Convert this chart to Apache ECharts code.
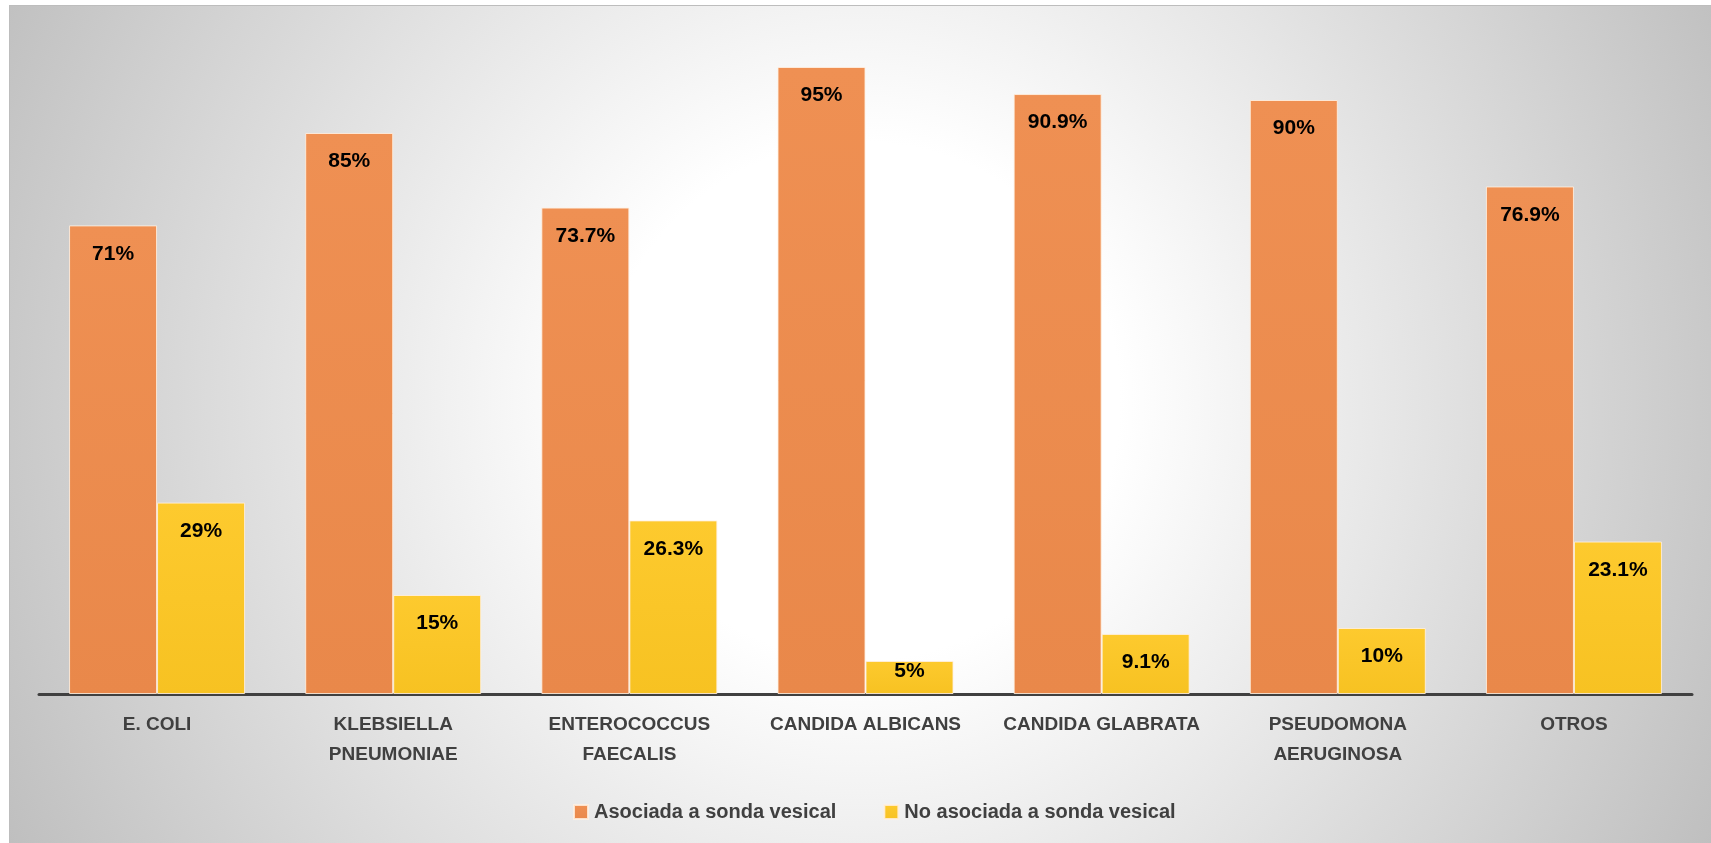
<!DOCTYPE html>
<html>
<head>
<meta charset="utf-8">
<title>Sonda vesical por microorganismo</title>
<script src="https://cdn.jsdelivr.net/npm/echarts@6/dist/echarts.min.js"></script>
<style>
  html, body { margin: 0; padding: 0; background: #ffffff; }
  #frame {
    position: absolute; left: 9px; top: 5px; width: 1702px; height: 838px;
    box-sizing: border-box;
    border-left: 1px solid #bdbdbd; border-top: 1px solid #bdbdbd;
    background: radial-gradient(circle farthest-corner at 851px 395px, #ffffff 0%, #ffffff 27%, #bfbfbf 100%);
  }
  #chart { position: absolute; left: 0; top: 0; width: 1711px; height: 843px; }
</style>
</head>
<body>
<div id="frame"></div>
<div id="chart"></div>
<script>
// Microorganismos aislados
const categories = [
  'E. COLI',
  'KLEBSIELLA\nPNEUMONIAE',
  'ENTEROCOCCUS\nFAECALIS',
  'CANDIDA ALBICANS',
  'CANDIDA GLABRATA',
  'PSEUDOMONA\nAERUGINOSA',
  'OTROS'
];
const seriesNames = ['Asociada a sonda vesical', 'No asociada a sonda vesical'];
// Porcentajes por microorganismo
const asociada = [71, 85, 73.7, 95, 90.9, 90, 76.9];
const noAsociada = [29, 15, 26.3, 5, 9.1, 10, 23.1];

const FONT = '"Liberation Sans", Arial, sans-serif';

// Short bars keep their label just under the top edge
function withLabels(values) {
  return values.map(v => (v < 8 ? { value: v, label: { distance: 0 } } : v));
}

function barSeries(name, values, top, bottom) {
  return {
    name: name,
    type: 'bar',
    barWidth: 88,
    barGap: '0%',
    data: withLabels(values),
    itemStyle: {
      color: new echarts.graphic.LinearGradient(0, 0, 0, 1, [
        { offset: 0, color: top },
        { offset: 1, color: bottom }
      ]),
      borderColor: 'rgba(255,240,225,0.85)',
      borderWidth: 1
    },
    label: {
      show: true,
      position: 'insideTop',
      distance: 18,
      formatter: '{c}%',
      color: '#000000',
      fontFamily: FONT,
      fontWeight: 'bold',
      fontSize: 21
    },
    emphasis: { disabled: true }
  };
}

const chart = echarts.init(document.getElementById('chart'), null, { renderer: 'canvas' });
chart.setOption({
  backgroundColor: 'transparent',
  animation: false,
  color: ['#ED8D4F', '#FBC62A'],
  grid: { left: 39, right: 19, top: 34, bottom: 149, containLabel: false },
  legend: {
    left: 568,
    top: 797,
    itemWidth: 14,
    itemHeight: 14,
    itemGap: 47,
    icon: 'rect',
    textStyle: { fontFamily: FONT, fontSize: 20, fontWeight: 'bold', color: '#404040', padding: [0, 0, 0, 1] },
    data: seriesNames
  },
  xAxis: {
    type: 'category',
    data: categories,
    axisLine: { show: true, lineStyle: { color: '#404040', width: 3 } },
    axisTick: { show: false },
    axisLabel: {
      interval: 0,
      margin: 16,
      color: '#404040',
      fontFamily: FONT,
      fontWeight: 'bold',
      fontSize: 19,
      lineHeight: 30
    }
  },
  yAxis: {
    type: 'value',
    min: 0,
    max: 100,
    interval: 10,
    show: false,
    splitLine: { show: false }
  },
  series: [
    barSeries(seriesNames[0], asociada, '#EF9053', '#E9884A'),
    barSeries(seriesNames[1], noAsociada, '#FDCA2E', '#F7C222')
  ]
});
</script>
</body>
</html>
